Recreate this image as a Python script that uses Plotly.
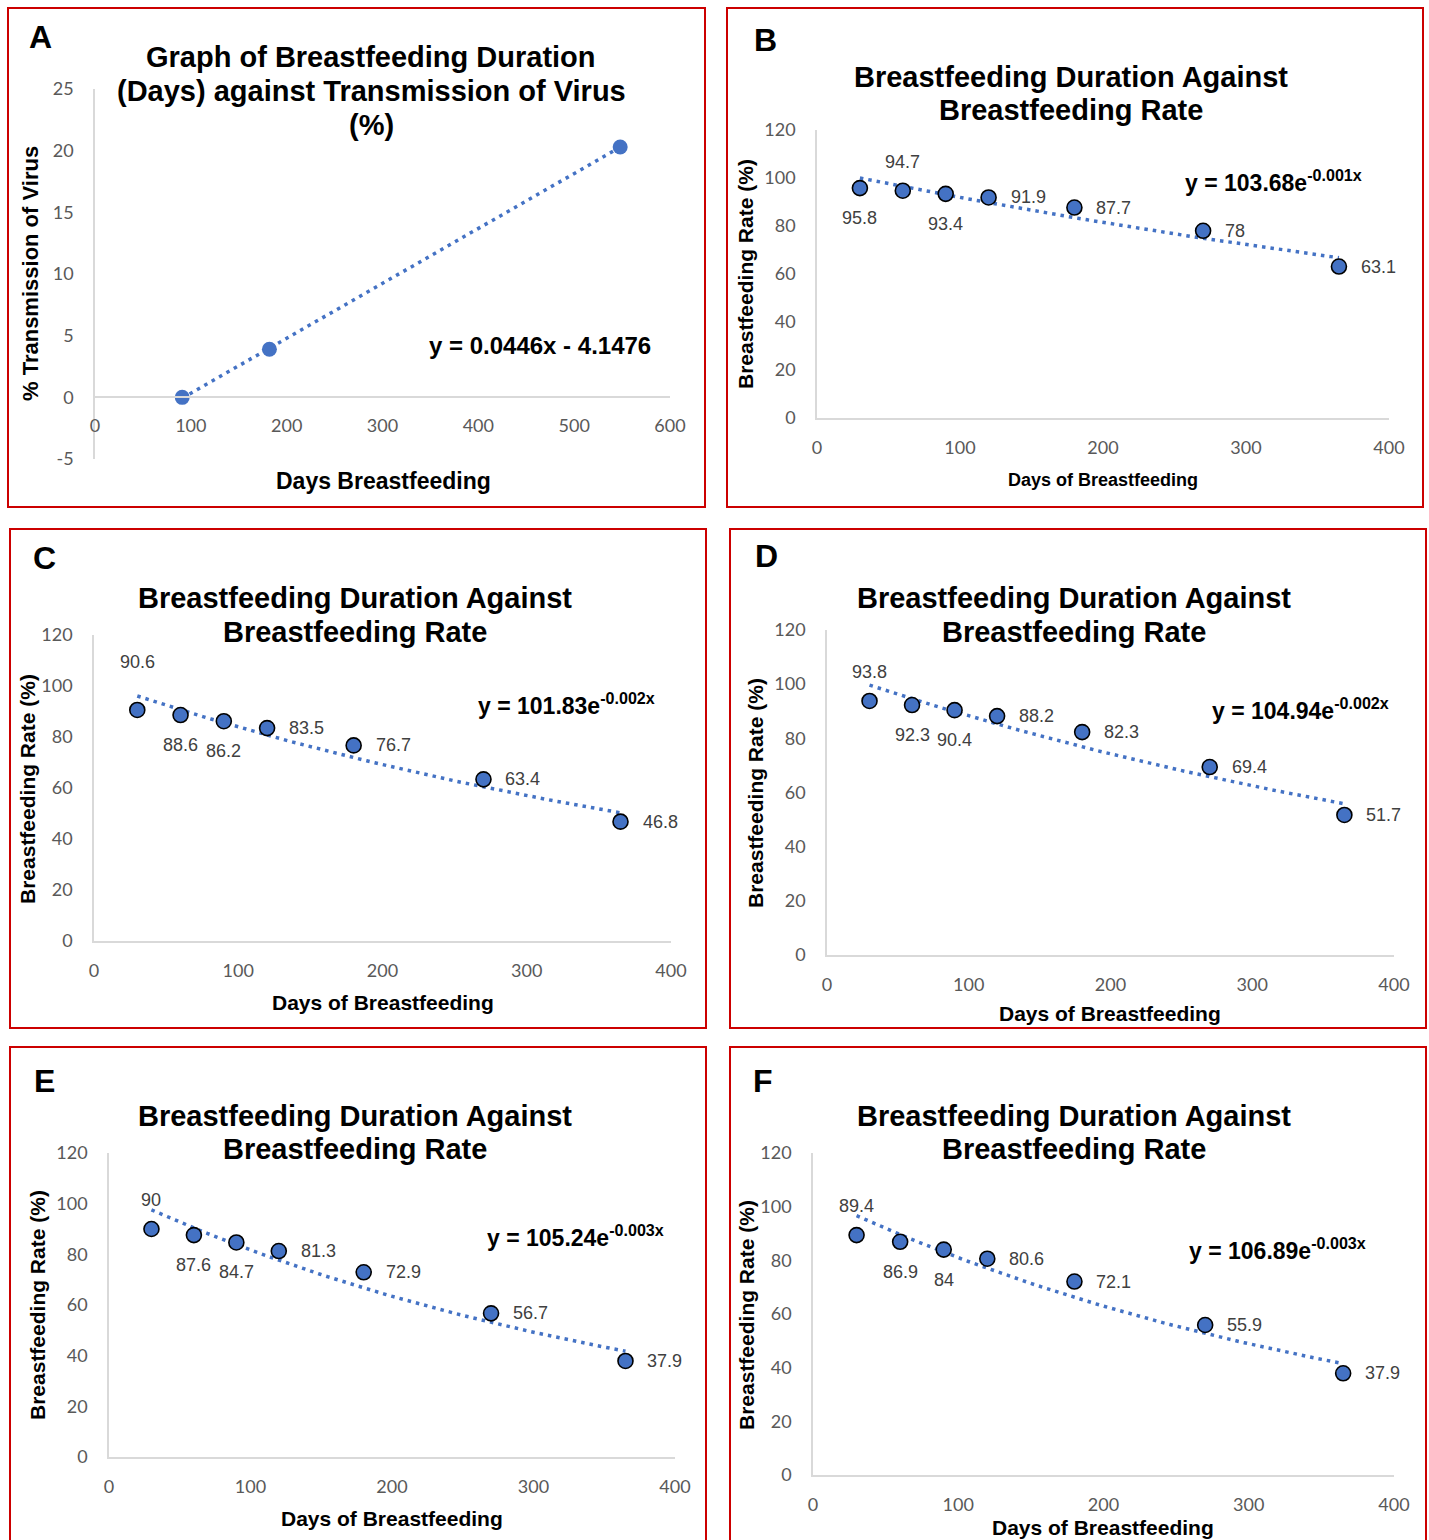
import numpy as np
import plotly.graph_objects as go

# ---------------- data ----------------
A_days = [91, 182, 548]
A_transmission = [0, 3.9, 20.3]

days = [30, 60, 90, 120, 180, 270, 365]
B_rate = [95.8, 94.7, 93.4, 91.9, 87.7, 78, 63.1]
C_rate = [90.6, 88.6, 86.2, 83.5, 76.7, 63.4, 46.8]
D_rate = [93.8, 92.3, 90.4, 88.2, 82.3, 69.4, 51.7]
E_rate = [90, 87.6, 84.7, 81.3, 72.9, 56.7, 37.9]
F_rate = [89.4, 86.9, 84, 80.6, 72.1, 55.9, 37.9]

A_xticks = [0, 100, 200, 300, 400, 500, 600]
A_yticks = [-5, 0, 5, 10, 15, 20, 25]
rate_xticks = [0, 100, 200, 300, 400]
rate_yticks = [0, 20, 40, 60, 80, 100, 120]

A_equation = "y = 0.0446x - 4.1476"
eq_main = ["103.68", "101.83", "104.94", "105.24", "106.89"]
eq_exp = ["-0.001x", "-0.002x", "-0.002x", "-0.003x", "-0.003x"]

title_A = ["Graph of Breastfeeding Duration", "(Days) against Transmission of Virus", "(%)"]
title_rate = ["Breastfeeding Duration Against", "Breastfeeding Rate"]

# ---------------- layout helpers (pixel geometry) ----------------
W, H = 1429, 1540
def px(x): return x / W
def py(y): return 1 - y / H

BLUE = "#4472C4"
TICK = "#595959"
LAB = "#404040"
AXL = "#d9d9d9"
RED = "#cc0000"
FT = "Liberation Sans, Arial, sans-serif"
FC = "Lato, Carlito, sans-serif"

fig = go.Figure()
ann = []
shapes = []

# panel borders
for (x0, y0, x1, y1) in [(8, 8, 705, 507), (727, 8, 1423, 507),
                         (10, 529, 706, 1028), (730, 529, 1426, 1028),
                         (10, 1047, 706, 1545), (730, 1047, 1426, 1545)]:
    shapes.append(dict(type="rect", xref="paper", yref="paper",
                       x0=px(x0), x1=px(x1), y0=py(y1), y1=py(y0),
                       line=dict(color=RED, width=2), fillcolor="rgba(0,0,0,0)"))

def add_text(x, y, text, size, color="black", bold=False, angle=0, xanchor="center", font=FT):
    ann.append(dict(x=px(x), y=py(y), xref="paper", yref="paper", text=("<b>%s</b>" % text) if bold else text,
                    showarrow=False, textangle=angle, xanchor=xanchor, yanchor="middle",
                    font=dict(family=font, size=size, color=color)))

def axis_common(domain, rng, tickvals, standoff):
    return dict(domain=domain, range=rng, tickvals=tickvals, ticktext=[str(v) for v in tickvals],
                showgrid=False, zeroline=False,
                showline=True, linecolor=AXL, linewidth=1.5, ticks="",
                tickfont=dict(family=FC, size=18, color=TICK), ticklabelstandoff=standoff,
                fixedrange=True)

XSO, YSO = 13, 16
layout_axes = {}

# ---------------- panel A ----------------
layout_axes["xaxis"] = dict(axis_common([px(95), px(670)], [0, 600], A_xticks, XSO),
                            anchor="free", position=py(397))
layout_axes["yaxis"] = dict(axis_common([py(459), py(89)], [-5, 25], A_yticks, YSO), anchor="x")
slope, icpt = np.polyfit(A_days, A_transmission, 1)
tx = np.array([min(A_days), max(A_days)])
fig.add_trace(go.Scatter(x=tx, y=slope * tx + icpt, mode="lines", xaxis="x", yaxis="y",
                         line=dict(color=BLUE, width=3.5, dash="3.5px,5px"), hoverinfo="skip"))
fig.add_trace(go.Scatter(x=A_days, y=A_transmission, mode="markers", xaxis="x", yaxis="y",
                         marker=dict(color=BLUE, size=15), cliponaxis=False))
add_text(40, 37, "A", 32, bold=True)
for t, yy in zip(title_A, [57, 91, 125]):
    add_text(371, yy, t, 29, bold=True)
add_text(30, 274, "% Transmission of Virus", 22, bold=True, angle=-90)
add_text(383, 481, "Days Breastfeeding", 23, bold=True)
add_text(427, 345, A_equation, 24, bold=True, xanchor="left")

# ---------------- panels B-F ----------------
geom = [
    dict(L="B", x0=817, x1=1389, yt=130, yb=418, lp=(765, 40), tx=1071, ty=(77, 110), yl=(745, 274), xl=(1103, 480, 18), eq=(1183, 178)),
    dict(L="C", x0=94, x1=671, yt=635, yb=941, lp=(44, 558), tx=355, ty=(598, 632), yl=(27, 789), xl=(383, 1002, 21), eq=(476, 701)),
    dict(L="D", x0=827, x1=1394, yt=630, yb=955, lp=(766, 556), tx=1074, ty=(598, 632), yl=(755, 793), xl=(1110, 1013, 21), eq=(1210, 706)),
    dict(L="E", x0=109, x1=675, yt=1153, yb=1457, lp=(44, 1081), tx=355, ty=(1116, 1149), yl=(37, 1305), xl=(392, 1518, 21), eq=(485, 1233)),
    dict(L="F", x0=813, x1=1394, yt=1153, yb=1475, lp=(763, 1081), tx=1074, ty=(1116, 1149), yl=(746, 1315), xl=(1103, 1527, 21), eq=(1187, 1246)),
]
placements = [
    ["below", "above", "below", "right", "right", "right", "right"],
    ["above_far", "below", "below", "right", "right", "right", "right"],
    ["above", "below", "below", "right", "right", "right", "right"],
    ["above", "below", "below", "right", "right", "right", "right"],
    ["above", "below", "below", "right", "right", "right", "right"],
]
offsets = {"below": (0, -30, "center"), "above": (0, 29, "center"), "above_far": (0, 48, "center"),
           "right": (20, 0, "left")}

rates = [B_rate, C_rate, D_rate, E_rate, F_rate]
for k, (g, rate, plc) in enumerate(zip(geom, rates, placements)):
    n = k + 2
    xa, ya = "x%d" % n, "y%d" % n
    layout_axes["xaxis%d" % n] = dict(axis_common([px(g["x0"]), px(g["x1"])], [0, 400], rate_xticks, XSO), anchor=ya)
    layout_axes["yaxis%d" % n] = dict(axis_common([py(g["yb"]), py(g["yt"])], [0, 120], rate_yticks, YSO), anchor=xa)
    b, lna = np.polyfit(days, np.log(rate), 1)
    xs = np.linspace(min(days), max(days), 60)
    fig.add_trace(go.Scatter(x=xs, y=np.exp(lna) * np.exp(b * xs), mode="lines", xaxis=xa, yaxis=ya,
                             line=dict(color=BLUE, width=3.5, dash="3.5px,5px"), hoverinfo="skip"))
    fig.add_trace(go.Scatter(x=days, y=rate, mode="markers", xaxis=xa, yaxis=ya, cliponaxis=False,
                             marker=dict(color=BLUE, size=15, line=dict(color="black", width=1.6))))
    for xv, yv, p in zip(days, rate, plc):
        dx, dy, anc = offsets[p]
        ann.append(dict(x=xv, y=yv, xref=xa, yref=ya, text="%g" % yv, showarrow=False,
                        xshift=dx, yshift=dy, xanchor=anc, yanchor="middle",
                        font=dict(family=FT, size=18, color=LAB)))
    add_text(g["lp"][0], g["lp"][1], g["L"], 32, bold=True)
    for t, yy in zip(title_rate, g["ty"]):
        add_text(g["tx"], yy, t, 29, bold=True)
    add_text(g["yl"][0], g["yl"][1], "Breastfeeding Rate (%)", 21, bold=True, angle=-90)
    add_text(g["xl"][0], g["xl"][1], "Days of Breastfeeding", g["xl"][2], bold=True)
    add_text(g["eq"][0], g["eq"][1] + 3, "y = %se<sup>%s</sup>" % (eq_main[k], eq_exp[k]), 23, bold=True, xanchor="left")

fig.update_layout(width=W, height=H, autosize=False,
                  margin=dict(l=0, r=0, t=0, b=0, pad=0, autoexpand=False),
                  plot_bgcolor="white", paper_bgcolor="white", showlegend=False,
                  annotations=ann, shapes=shapes, **layout_axes)
fig.write_html("out.html", config={"displayModeBar": False},
               post_script="document.body.style.margin='0';document.body.style.padding='0';"
                           "document.documentElement.style.overflow='hidden';document.body.style.overflow='hidden';")
